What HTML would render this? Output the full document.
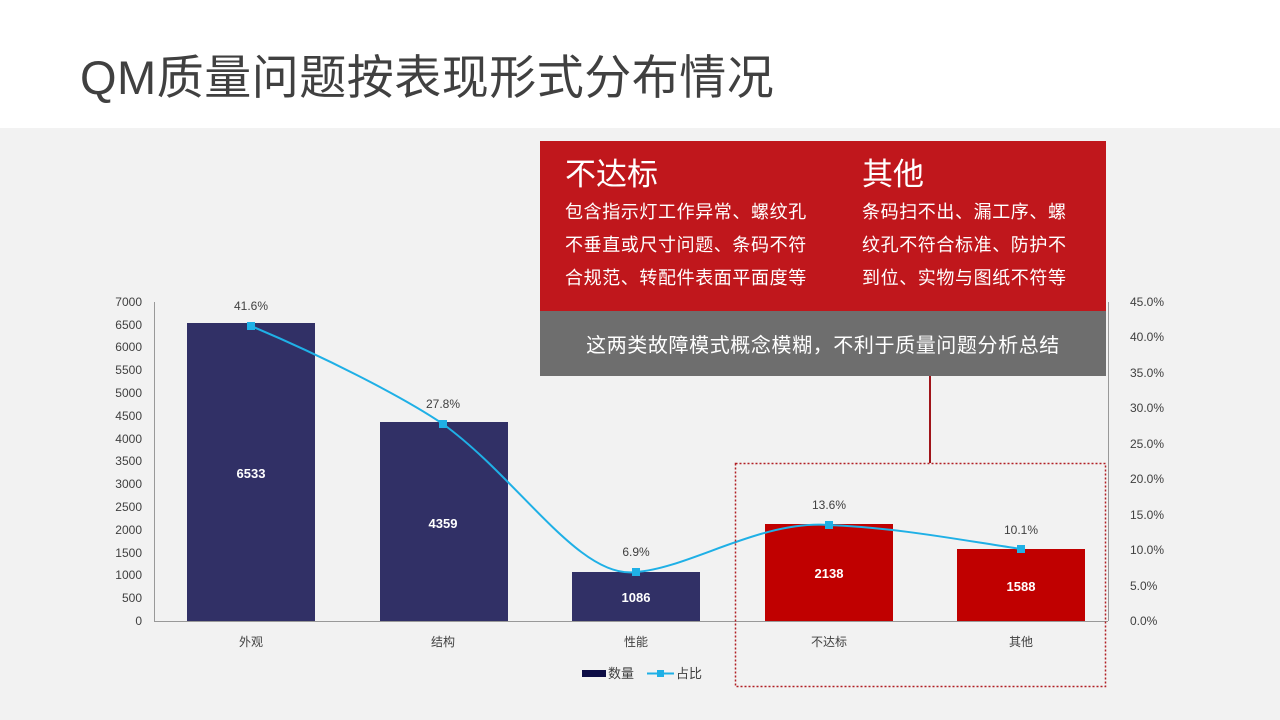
<!DOCTYPE html>
<html><head><meta charset="utf-8"><style>
body{margin:0;width:1280px;height:720px;overflow:hidden;background:#f2f2f2;font-family:"Liberation Sans","Noto Sans CJK SC",sans-serif;}
.hdr{position:absolute;left:0;top:0;width:1280px;height:128px;background:#fff;}
.title{position:absolute;left:80px;top:48px;font-size:47px;color:#404040;line-height:60px;letter-spacing:0.5px;}
svg{position:absolute;left:0;top:0;}
</style></head><body>
<div class="hdr"></div>
<div class="title">QM质量问题按表现形式分布情况</div>
<svg width="1280" height="720" font-family="Liberation Sans, Noto Sans CJK SC, sans-serif">
<rect x="540" y="141" width="566" height="170" fill="#c0171c"/>
<rect x="540" y="311" width="566" height="65" fill="#6e6e6e"/>
<g fill="#fff">
<text x="565" y="185" font-size="31">不达标</text>
<text x="862" y="185" font-size="31">其他</text>
<g font-size="18" letter-spacing="0.6">
<text x="565" y="218">包含指示灯工作异常、螺纹孔</text>
<text x="565" y="251">不垂直或尺寸问题、条码不符</text>
<text x="565" y="284">合规范、转配件表面平面度等</text>
<text x="862" y="218">条码扫不出、漏工序、螺</text>
<text x="862" y="251">纹孔不符合标准、防护不</text>
<text x="862" y="284">到位、实物与图纸不符等</text>
</g>
<text x="823" y="352" font-size="20" letter-spacing="0.6" text-anchor="middle">这两类故障模式概念模糊，不利于质量问题分析总结</text>
</g>
<line x1="930" y1="376" x2="930" y2="463" stroke="#a0141a" stroke-width="2"/>
<g font-size="12" fill="#404040" text-anchor="end">
<text x="142" y="306">7000</text><text x="142" y="329">6500</text><text x="142" y="351">6000</text><text x="142" y="374">5500</text><text x="142" y="397">5000</text><text x="142" y="420">4500</text><text x="142" y="443">4000</text><text x="142" y="465">3500</text><text x="142" y="488">3000</text><text x="142" y="511">2500</text><text x="142" y="534">2000</text><text x="142" y="557">1500</text><text x="142" y="579">1000</text><text x="142" y="602">500</text><text x="142" y="625">0</text>
</g>
<g font-size="12" fill="#404040">
<text x="1130" y="306">45.0%</text><text x="1130" y="341">40.0%</text><text x="1130" y="377">35.0%</text><text x="1130" y="412">30.0%</text><text x="1130" y="448">25.0%</text><text x="1130" y="483">20.0%</text><text x="1130" y="519">15.0%</text><text x="1130" y="554">10.0%</text><text x="1130" y="590">5.0%</text><text x="1130" y="625">0.0%</text>
</g>
<line x1="154.5" y1="302" x2="154.5" y2="621" stroke="#999"/>
<line x1="1108.5" y1="302" x2="1108.5" y2="621" stroke="#999"/>
<line x1="154" y1="621.5" x2="1108" y2="621.5" stroke="#999"/>
<rect x="187" y="323" width="128" height="298" fill="#313066"/>
<rect x="380" y="422" width="128" height="199" fill="#313066"/>
<rect x="572" y="572" width="128" height="49" fill="#313066"/>
<rect x="765" y="524" width="128" height="97" fill="#c00000"/>
<rect x="957" y="549" width="128" height="72" fill="#c00000"/>
<g font-size="13" font-weight="bold" fill="#fff" text-anchor="middle">
<text x="251" y="478">6533</text><text x="443" y="528">4359</text><text x="636" y="602">1086</text><text x="829" y="578">2138</text><text x="1021" y="591">1588</text>
</g>
<path d="M251,326 C320,355 400,395 443,424 C520,480 580,580 636,572 C690,568 760,520 829,525 C900,528 960,540 1021,549" fill="none" stroke="#1fb0e6" stroke-width="2"/>
<g fill="#1fb0e6"><rect x="247" y="322" width="8" height="8"/><rect x="439" y="420" width="8" height="8"/><rect x="632" y="568" width="8" height="8"/><rect x="825" y="521" width="8" height="8"/><rect x="1017" y="545" width="8" height="8"/></g>
<g font-size="12" fill="#404040" text-anchor="middle">
<text x="251" y="310">41.6%</text><text x="443" y="408">27.8%</text><text x="636" y="556">6.9%</text><text x="829" y="509">13.6%</text><text x="1021" y="534">10.1%</text>
<text x="251" y="646">外观</text><text x="443" y="646">结构</text><text x="636" y="646">性能</text><text x="829" y="646">不达标</text><text x="1021" y="646">其他</text>
</g>
<rect x="582" y="670" width="24" height="7" fill="#0d0d45"/>
<text x="608" y="678" font-size="13" fill="#404040">数量</text>
<line x1="647" y1="673.5" x2="674" y2="673.5" stroke="#1fb0e6" stroke-width="2"/>
<rect x="657" y="670" width="7" height="7" fill="#1fb0e6"/>
<text x="676" y="678" font-size="13" fill="#404040">占比</text>
<rect x="735.5" y="463.5" width="370" height="223" fill="none" stroke="#b01e24" stroke-width="1.5" stroke-dasharray="2,2"/>
</svg>
</body></html>
